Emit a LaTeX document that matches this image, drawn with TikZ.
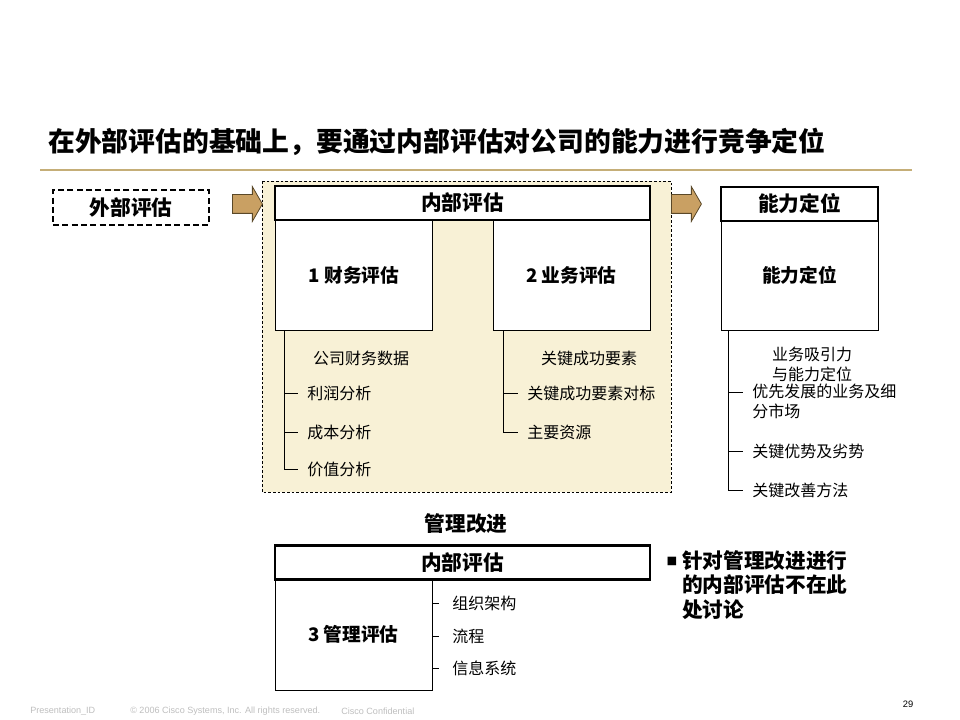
\documentclass[tikz,border=0pt]{standalone}
\usepackage{fontspec}
\setmainfont{Noto Sans CJK SC}
\newfontfamily\footfont{Liberation Sans}
\usetikzlibrary{shapes.arrows}
\definecolor{panelfill}{RGB}{248,241,214}
\definecolor{goldline}{RGB}{197,174,120}
\definecolor{arrowfill}{RGB}{201,160,99}
\definecolor{arrowedge}{RGB}{90,72,40}
\definecolor{footgray}{RGB}{190,190,190}

\begin{document}
\begin{tikzpicture}[x=0.75pt,y=-0.75pt,
  hdrbox/.style={draw,line width=1.8pt,fill=white,minimum width=281.25pt,minimum height=25.5pt,inner sep=0pt,font=\fontsize{15.5}{18}\selectfont\bfseries},
  box/.style={draw,line width=0.75pt,fill=white,minimum width=117.75pt,minimum height=82.5pt,inner sep=0pt,font=\fontsize{14}{17}\selectfont\bfseries},
  lbl/.style={anchor=west,inner ysep=0pt,inner xsep=6.75pt,font=\fontsize{12}{15}\selectfont},
  fatarrow/.style={single arrow,draw=arrowedge,fill=arrowfill,line width=0.6pt,minimum height=22.5pt,minimum width=25.5pt,inner sep=6.75pt,single arrow head extend=6pt,single arrow tip angle=120,anchor=west},
  foot/.style={anchor=west,inner sep=0pt,text=footgray,font=\footfont\fontsize{6.8}{7.8}\selectfont}]
\useasboundingbox (0,0) rectangle (960,720);

% title
\node[anchor=west,inner sep=0pt,font=\fontsize{20.1}{24}\selectfont\bfseries] (title) at (48,142) {在外部评估的基础上，要通过内部评估对公司的能力进行竞争定位};
\draw[goldline,line width=0.8pt] (40,170) -- (912,170);

% external / internal
\node[draw,dash pattern=on 4.5pt off 2.5pt,line width=1.1pt,minimum width=117pt,minimum height=26.25pt,inner sep=0pt,font=\fontsize{15.5}{18}\selectfont\bfseries] (ext) at (131,207.5) {外部评估};
\draw[fill=panelfill,line width=0.5pt,dash pattern=on 2pt off 1.5pt] (262,181) rectangle (671,492);
\node[fatarrow] (arr1) at (232,204) {};
\node[fatarrow] (arr2) at (671,204) {};

\node[box] (fin) at (354,275) {1 财务评估};
\node[box] (biz) at (571.5,275) {2 业务评估};
\node[hdrbox] (inthdr) at (462.5,203) {内部评估};

\node[lbl,anchor=center,inner xsep=0pt] (findata) at (361,358) {公司财务数据};
\node[lbl] (profit) at (298,393) {利润分析};
\node[lbl] (cost) at (298,432) {成本分析};
\node[lbl] (value) at (298,469) {价值分析};
\coordinate (fintrunk) at ([xshift=6.75pt]fin.south west);
\foreach \n in {profit,cost,value}
  \draw (fintrunk) |- (\n.west);

\node[lbl,anchor=center,inner xsep=0pt] (ksf) at (589,358) {关键成功要素};
\node[lbl] (bench) at (518,393) {关键成功要素对标};
\node[lbl] (res) at (518,432) {主要资源};
\coordinate (biztrunk) at ([xshift=8.25pt]biz.south west);
\foreach \n in {bench,res}
  \draw (biztrunk) |- (\n.west);

% capability positioning
\node[box] (cap) at (799.5,275.5) {能力定位};
\node[hdrbox,minimum width=117.75pt] (caphdr) at (799.5,204) {能力定位};
\node[align=center,inner sep=0pt,font=\fontsize{12}{15}\selectfont] (attr) at (812,364) {业务吸引力\\与能力定位};
\node[lbl,anchor=north west,align=left] (prio) at (743,384) {优先发展的业务及细\\分市场};
\node[lbl] (adv) at (743,451) {关键优势及劣势};
\node[lbl] (impr) at (743,490) {关键改善方法};
\coordinate (captrunk) at ([xshift=6pt]cap.south west);
\draw (captrunk) |- ([yshift=-6.5pt]prio.north west);
\foreach \n in {adv,impr}
  \draw (captrunk) |- (\n.west);

% management improvement
\node[font=\fontsize{15.5}{18}\selectfont\bfseries] (mgmt) at (466,524) {管理改进};
\node[box,minimum height=83.25pt] (mgt) at (353.5,634.5) {3 管理评估};
\node[hdrbox] (inthdr2) at (462.5,562.5) {内部评估};
\node[lbl,inner xsep=15pt] (org) at (432,603) {组织架构};
\node[lbl,inner xsep=15pt] (proc) at (432,636) {流程};
\node[lbl,inner xsep=15pt] (info) at (432,668) {信息系统};
\foreach \n in {org,proc,info}
  \draw (mgt.east |- \n.west) -- ++(6,0);

\node[inner sep=0pt,font=\fontsize{8}{8}\selectfont] (bullet) at (672,561) {■};
\node[anchor=north west,align=left,inner sep=0pt,font=\fontsize{15.5}{18.4}\selectfont\bfseries] (note) at (682,550) {针对管理改进进行\\的内部评估不在此\\处讨论};

% footer
\node[foot] (pid) at (30,711) {Presentation\_ID};
\node[foot] (copy) at (130,711) {© 2006 Cisco Systems, Inc. All rights reserved.};
\node[foot] (conf) at (341,711) {Cisco Confidential};
\node[inner sep=0pt,font=\footfont\fontsize{7}{8}\selectfont] (page) at (908,704) {29};
\end{tikzpicture}
\end{document}
